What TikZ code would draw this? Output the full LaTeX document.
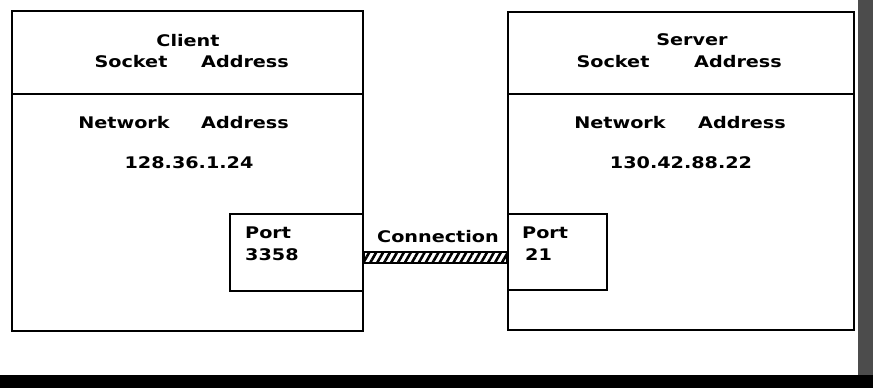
\documentclass[tikz,border=0pt]{standalone}
\usepackage{fontspec}
\newfontfamily\lblfont{DejaVu Sans}[FakeStretch=1.2]
\usetikzlibrary{patterns.meta}

\begin{document}
\begin{tikzpicture}[x=1pt,y=-1pt,
  box/.style={draw,line width=2.2pt,rectangle,anchor=north west,inner sep=0pt,fill=white},
  lbl/.style={font=\lblfont\bfseries\fontsize{16}{18}\selectfont,inner sep=0pt}]
  \useasboundingbox (0,0) rectangle (873,388);
  % client side
  \node[box,minimum width=351,minimum height=83] (chead) at (11,10) {};
  \node[box,minimum width=351,minimum height=237] (cbody) at (11,93) {};
  \node[box,minimum width=133,minimum height=77] (cport) at (229,213) {};
  % server side
  \node[box,minimum width=346,minimum height=82] (shead) at (507,11) {};
  \node[box,minimum width=346,minimum height=236] (sbody) at (507,93) {};
  \node[box,minimum width=99,minimum height=76] (sport) at (507,213) {};
  % connection
  \draw[line width=1.6pt,pattern={Lines[angle=60,distance=6pt,line width=2.6pt]}]
    (cport.east |- 0,252) rectangle (sport.west |- 0,263);
  % texts
  \node[lbl] (cname) at (188,41) {Client};
  \node[lbl] (csock) at (131,62) {Socket};
  \node[lbl] (caddr) at (245,62) {Address};
  \node[lbl] (cnet) at (124,123) {Network};
  \node[lbl] (cnaddr) at (245,123) {Address};
  \node[lbl] (cip) at (189,163) {128.36.1.24};
  \node[lbl,anchor=west] (cportl) at (245,233) {Port};
  \node[lbl,anchor=west] (cportn) at (245,255) {3358};
  \node[lbl] (sname) at (692,40) {Server};
  \node[lbl] (ssock) at (613,62) {Socket};
  \node[lbl] (saddr) at (738,62) {Address};
  \node[lbl] (snet) at (620,123) {Network};
  \node[lbl] (snaddr) at (742,123) {Address};
  \node[lbl] (sip) at (681,163) {130.42.88.22};
  \node[lbl,anchor=west] (sportl) at (522,233) {Port};
  \node[lbl,anchor=west] (sportn) at (525,255) {21};
  \node[lbl] (conn) at (438,237) {Connection};
  % page edges
  \fill[black!70] (858,0) rectangle (873,388);
  \fill (0,375) rectangle (873,388);
\end{tikzpicture}
\end{document}
